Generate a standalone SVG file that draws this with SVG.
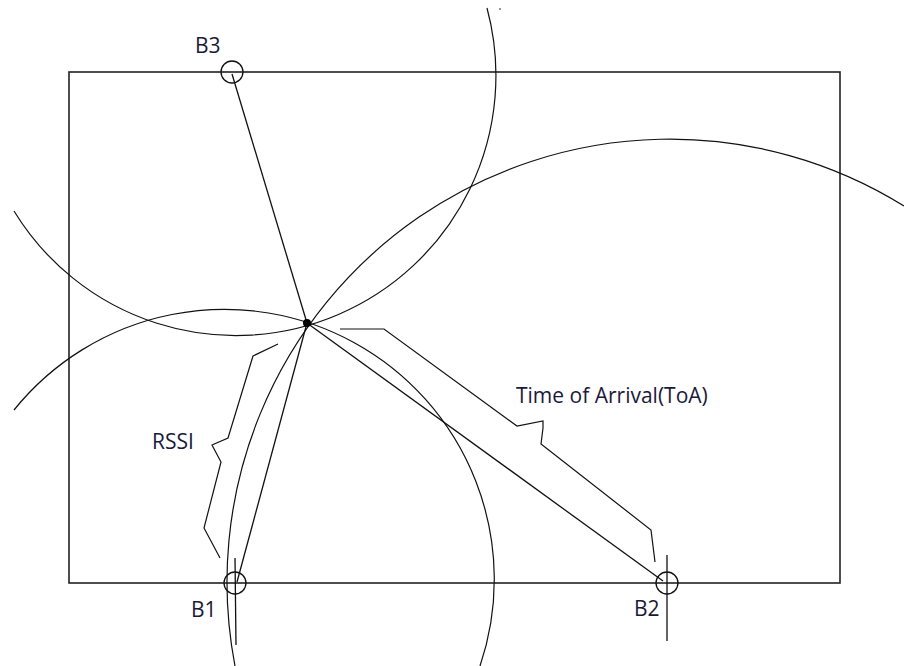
<svg xmlns="http://www.w3.org/2000/svg" width="904" height="666" viewBox="0 0 904 666">
<style>
.bg{fill:#ffffff}
.frame{fill:none;stroke:#222;stroke-width:1.6}
.arc{fill:none;stroke:#111;stroke-width:1.2}
.ln{fill:none;stroke:#111;stroke-width:1.3}
.brace{fill:none;stroke:#111;stroke-width:1.2;stroke-linejoin:miter}
.bc{fill:none;stroke:#111;stroke-width:1.3}
.lbl{font-family:"Open Sans","Noto Sans","Liberation Sans",sans-serif;font-size:21px;fill:#1a1a3a}
</style>
<rect class="bg" x="0" y="0" width="904" height="666"/>
<rect id="area" class="frame" x="69" y="72" width="771" height="511"/>
<g id="ranges">
<path class="arc" d="M 487 8 A 260 260 0 0 1 14 211"/>
<path class="arc" d="M 14 410 A 270 270 0 0 1 480 666"/>
<path class="arc" d="M 235 666 A 443 443 0 0 1 904 206"/>
<circle cx="500" cy="9" r="0.8" fill="#111"/>
</g>
<g id="connectors">
<line class="ln" x1="232" y1="74" x2="307" y2="323"/>
<line class="ln" x1="237" y1="582" x2="307" y2="323"/>
<line class="ln" x1="307" y1="323" x2="663" y2="581"/>
</g>
<g id="B3">
<circle class="bc" cx="232" cy="72" r="11"/>
<text class="lbl" x="195" y="53">B3</text>
</g>
<g id="B1">
<circle class="bc" cx="235" cy="583" r="11"/>
<line class="ln" x1="235" y1="558" x2="236" y2="645"/>
<text class="lbl" x="191" y="617">B1</text>
</g>
<g id="B2">
<circle class="bc" cx="667" cy="583" r="11"/>
<line class="ln" x1="667" y1="555" x2="667" y2="641"/>
<text class="lbl" x="634" y="616">B2</text>
</g>
<g id="target">
<circle cx="307" cy="323" r="4" fill="#000"/>
</g>
<g id="rssi">
<polyline class="brace" points="278,344 253,356 228,438 212,445 221,462 204,528 220,558"/>
<text class="lbl" x="152" y="449">RSSI</text>
</g>
<g id="toa">
<polyline class="brace" points="340,329 384,329 517,426 543,421 543,428 541,444 651,530 655,562"/>
<text class="lbl" x="516" y="403">Time of Arrival(ToA)</text>
</g>
</svg>
